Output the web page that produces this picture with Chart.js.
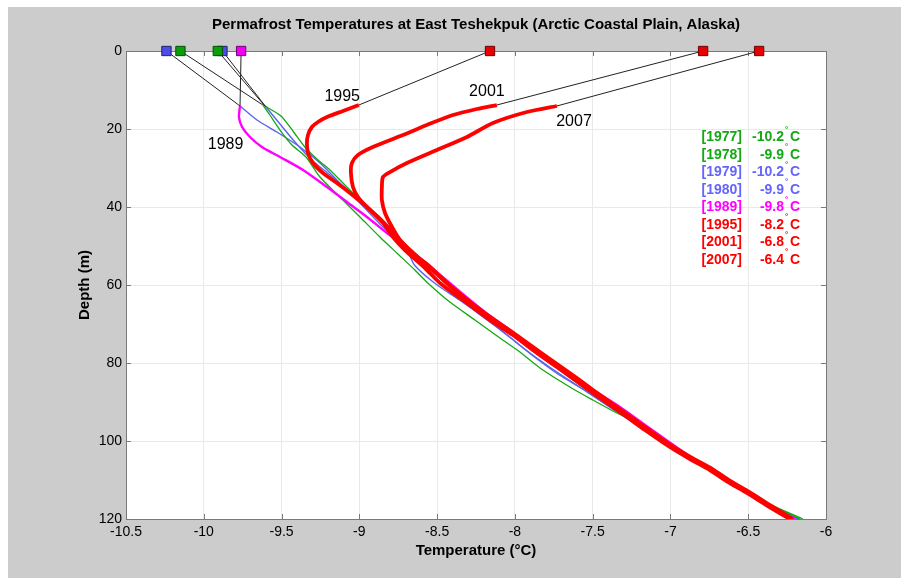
<!DOCTYPE html>
<html>
<head>
<meta charset="utf-8">
<script src="https://cdn.jsdelivr.net/npm/chart.js@4/dist/chart.umd.min.js"></script>
<style>
  body { margin: 0; background: #fff; }
  #wrap { position: absolute; left: 8px; top: 7px; width: 893px; height: 571px; background: #cccccc; }
</style>
</head>
<body>
<div id="wrap"><canvas id="c" width="893" height="571"></canvas></div>
<script>
// survey years, surface temperatures (squares at depth 0) and legend labels
const years = ['1977', '1978', '1979', '1980', '1989', '1995', '2001', '2007'];
const surfaceTemp = [-10.15, -9.91, -10.24, -9.88, -9.76, -8.16, -6.79, -6.43];
const legendTemp = ['-10.2', '-9.9', '-10.2', '-9.9', '-9.8', '-8.2', '-6.8', '-6.4'];

const xTicks = [-10.5, -10, -9.5, -9, -8.5, -8, -7.5, -7, -6.5, -6];
const yTicks = [0, 20, 40, 60, 80, 100, 120];

// measured profiles: depth (m) and temperature (C)
const depth1977 = [13.85, 16.41, 20.26, 24.10, 27.18, 32.31, 37.44, 42.56, 47.69, 52.05, 56.15, 60.00, 64.36, 68.97, 73.59, 77.18, 81.28, 86.15, 89.49, 92.56, 94.87, 98.21, 101.54, 107.95, 113.85, 120];
const temp1977 = [-9.620, -9.575, -9.510, -9.433, -9.343, -9.253, -9.125, -8.996, -8.868, -8.752, -8.643, -8.546, -8.418, -8.257, -8.096, -7.968, -7.839, -7.647, -7.499, -7.357, -7.242, -7.120, -6.991, -6.734, -6.490, -6.149];

const depth1978 = [14.10, 16.67, 20.51, 24.62, 27.95, 30.51, 34.36, 38.21, 42.82, 47.18, 51.03, 56.15, 61.79, 66.92, 71.54, 76.67, 81.28, 86.92, 92.05, 97.18, 101.54, 107.69, 113.59, 120];
const temp1978 = [-9.607, -9.504, -9.427, -9.350, -9.266, -9.189, -9.093, -8.996, -8.880, -8.771, -8.662, -8.534, -8.373, -8.213, -8.052, -7.891, -7.731, -7.538, -7.345, -7.147, -6.972, -6.734, -6.490, -6.168];

const depth1979 = [14.10, 17.69, 20.77, 24.62, 28.72, 33.85, 38.97, 45.13, 51.03, 54.87, 59.49, 63.85, 68.46, 73.33, 78.46, 83.08, 86.92, 92.05, 97.18, 101.54, 107.69, 113.59, 120];
const temp1979 = [-9.767, -9.658, -9.530, -9.382, -9.253, -9.125, -8.996, -8.848, -8.694, -8.646, -8.517, -8.356, -8.196, -8.035, -7.874, -7.714, -7.553, -7.360, -7.162, -6.972, -6.734, -6.490, -6.181];

const depth1980 = [14.36, 18.72, 23.33, 27.95, 31.79, 36.15, 40.77, 45.90, 51.03, 55.64, 61.28, 66.41, 71.54, 76.67, 81.28, 86.41, 91.54, 97.18, 101.54, 107.69, 113.59, 120];
const temp1980 = [-9.600, -9.510, -9.414, -9.305, -9.189, -9.060, -8.932, -8.803, -8.675, -8.571, -8.430, -8.263, -8.089, -7.929, -7.768, -7.575, -7.382, -7.165, -6.972, -6.734, -6.490, -6.181];

const depth1989 = [14.10, 16.92, 19.49, 22.05, 24.62, 27.18, 30.51, 34.87, 38.72, 42.56, 46.67, 51.03, 55.64, 61.28, 66.92, 71.54, 77.18, 81.28, 86.41, 91.28, 96.41, 101.28, 107.44, 113.59, 120];
const temp1989 = [-9.767, -9.774, -9.754, -9.703, -9.626, -9.510, -9.362, -9.208, -9.080, -8.951, -8.823, -8.675, -8.533, -8.366, -8.193, -8.032, -7.859, -7.711, -7.518, -7.325, -7.145, -6.972, -6.747, -6.490, -6.201];

const depth1995 = [13.85, 15.38, 16.92, 18.21, 19.49, 21.54, 23.59, 26.15, 28.72, 31.28, 33.85, 36.41, 40.00, 44.10, 47.69, 51.03, 55.64, 59.49, 64.62, 68.97, 72.82, 77.44, 81.03, 84.36, 87.69, 90.77, 93.85, 97.18, 101.54, 104.62, 107.44, 110.51, 113.33, 116.67, 120];
const temp1995 = [-9.003, -9.105, -9.208, -9.266, -9.305, -9.330, -9.337, -9.330, -9.298, -9.234, -9.144, -9.060, -8.951, -8.848, -8.784, -8.707, -8.578, -8.482, -8.308, -8.161, -8.013, -7.859, -7.730, -7.614, -7.499, -7.389, -7.280, -7.164, -7.004, -6.875, -6.747, -6.631, -6.509, -6.374, -6.233];

const depth2001 = [13.85, 14.87, 16.41, 18.97, 21.54, 24.62, 26.67, 28.72, 31.28, 34.87, 37.44, 40.00, 42.56, 45.13, 48.46, 51.54, 55.64, 59.49, 64.62, 68.97, 72.82, 77.44, 81.03, 84.36, 87.69, 90.77, 93.85, 97.18, 101.54, 104.62, 107.44, 110.51, 113.33, 116.67, 120];
const temp2001 = [-8.116, -8.244, -8.398, -8.566, -8.720, -8.913, -9.009, -9.048, -9.054, -9.041, -9.009, -8.951, -8.880, -8.816, -8.739, -8.662, -8.546, -8.437, -8.289, -8.141, -8.000, -7.839, -7.711, -7.601, -7.486, -7.376, -7.267, -7.151, -6.991, -6.862, -6.734, -6.618, -6.496, -6.361, -6.220];

const depth2007 = [14.10, 15.64, 18.46, 22.05, 25.38, 28.72, 31.03, 32.31, 34.87, 38.21, 41.54, 45.13, 48.46, 51.79, 54.87, 59.49, 64.36, 68.72, 72.56, 77.18, 80.77, 84.00, 87.40, 90.50, 93.60, 96.90, 101.30, 104.40, 107.20, 110.30, 113.10, 116.50, 120];
const temp2007 = [-7.730, -7.923, -8.141, -8.308, -8.501, -8.694, -8.803, -8.848, -8.855, -8.855, -8.835, -8.790, -8.739, -8.662, -8.559, -8.437, -8.289, -8.141, -8.000, -7.839, -7.711, -7.597, -7.482, -7.372, -7.262, -7.146, -6.988, -6.858, -6.730, -6.613, -6.492, -6.357, -6.215];

// year labels next to the curves, in data units (temperature, depth)
const labelYears = ['1995', '2001', '2007', '1989'];
const labelTemp = [-9.11, -8.18, -7.62, -9.86];
const labelDepth = [11.6, 10.5, 18.2, 23.9];

const profiles = [
    [depth1977, temp1977], [depth1978, temp1978], [depth1979, temp1979], [depth1980, temp1980],
    [depth1989, temp1989], [depth1995, temp1995], [depth2001, temp2001], [depth2007, temp2007]
];

const lineColor = ['#14a814', '#14a814', '#5a64f0', '#5a64f0', '#ff00ff', '#ff0000', '#ff0000', '#ff0000'];
const squareColor = ['#0c9c0c', '#0c9c0c', '#4c4ce6', '#4c4ce6', '#f000f0', '#e60000', '#e60000', '#e60000'];
const squareEdge = ['#045004', '#045004', '#22226e', '#22226e', '#700070', '#6e0000', '#6e0000', '#6e0000'];
const legendColor = ['#14a814', '#14a814', '#6464ff', '#6464ff', '#ff00ff', '#ff0000', '#ff0000', '#ff0000'];
const lineWidth = [1.3, 1.3, 1.4, 1.4, 2.4, 3.8, 3.8, 3.8];

const FONT = '"Liberation Sans", Arial, Helvetica, sans-serif';

const datasets = [];
years.forEach((yr, i) => {
    const [d, t] = profiles[i];
    datasets.push({
        label: yr,
        data: d.map((v, j) => ({ x: t[j], y: v })),
        showLine: true,
        borderColor: lineColor[i],
        borderWidth: lineWidth[i],
        pointRadius: 0,
        tension: 0.25,
        order: i >= 5 ? 3 : (i === 4 ? 4 : 5)
    });
    datasets.push({
        label: yr + ' link',
        data: [{ x: surfaceTemp[i], y: 0 }, { x: t[0], y: d[0] }],
        showLine: true,
        borderColor: '#222',
        borderWidth: 1,
        pointRadius: 0,
        order: 2
    });
    datasets.push({
        label: yr + ' surface',
        data: [{ x: surfaceTemp[i], y: 0 }],
        showLine: false,
        pointStyle: 'rect',
        pointRadius: 6.6,
        backgroundColor: squareColor[i],
        borderColor: squareEdge[i],
        borderWidth: 1,
        clip: false,
        order: 1
    });
});

const decor = {
    id: 'decor',
    beforeDraw(chart) {
        const { ctx, chartArea: a } = chart;
        ctx.save();
        ctx.fillStyle = '#fff';
        ctx.fillRect(a.left, a.top, a.right - a.left, a.bottom - a.top);
        ctx.restore();
    },
    beforeDatasetsDraw(chart) {
        const { ctx, chartArea: a, scales: { x, y } } = chart;
        ctx.save();
        ctx.strokeStyle = '#7a7a7a';
        ctx.lineWidth = 1;
        ctx.beginPath();
        xTicks.forEach(v => {
            const px = Math.round(x.getPixelForValue(v)) + 0.5;
            ctx.moveTo(px, a.bottom); ctx.lineTo(px, a.bottom - 5);
            ctx.moveTo(px, a.top); ctx.lineTo(px, a.top + 5);
        });
        yTicks.forEach(v => {
            const py = Math.round(y.getPixelForValue(v)) + 0.5;
            ctx.moveTo(a.left, py); ctx.lineTo(a.left + 5, py);
            ctx.moveTo(a.right, py); ctx.lineTo(a.right - 5, py);
        });
        ctx.stroke();
        ctx.strokeRect(Math.round(a.left) + 0.5, Math.round(a.top) + 0.5,
            Math.round(a.right - a.left), Math.round(a.bottom - a.top));
        ctx.restore();
    },
    afterDraw(chart) {
        const { ctx, chartArea: a, scales: { x, y } } = chart;
        const cx = (a.left + a.right) / 2;
        ctx.save();
        ctx.fillStyle = '#000';
        ctx.textAlign = 'center';
        ctx.textBaseline = 'alphabetic';
        ctx.font = 'bold 15px ' + FONT;
        ctx.fillText('Permafrost Temperatures at East Teshekpuk (Arctic Coastal Plain, Alaska)', cx, 22);
        ctx.fillText('Temperature (°C)', cx, 548);
        ctx.save();
        ctx.translate(77, (a.top + a.bottom) / 2);
        ctx.rotate(-Math.PI / 2);
        ctx.textBaseline = 'middle';
        ctx.fillText('Depth (m)', 0, 0);
        ctx.restore();

        // year labels by the curves
        ctx.font = '16px ' + FONT;
        ctx.textBaseline = 'middle';
        labelYears.forEach((s, i) => {
            ctx.fillText(s, x.getPixelForValue(labelTemp[i]), y.getPixelForValue(labelDepth[i]));
        });

        // legend of surface temperatures
        ctx.font = 'bold 14px ' + FONT;
        years.forEach((yr, i) => {
            const ry = 130.5 + i * 17.5;
            ctx.fillStyle = legendColor[i];
            ctx.textAlign = 'right';
            ctx.fillText('[' + yr + ']', 734, ry);
            ctx.fillText(legendTemp[i], 776, ry);
            ctx.textAlign = 'left';
            ctx.font = 'bold 8px ' + FONT;
            ctx.fillText('°', 777, ry - 8);
            ctx.font = 'bold 14px ' + FONT;
            ctx.fillText('C', 782, ry);
        });
        ctx.restore();
    }
};

new Chart(document.getElementById('c'), {
    type: 'scatter',
    data: { datasets: datasets },
    options: {
        responsive: false,
        animation: false,
        events: [],
        layout: { padding: { left: 0, top: 44, right: 75, bottom: 0 } },
        plugins: { legend: { display: false }, tooltip: { enabled: false } },
        scales: {
            x: {
                type: 'linear',
                min: -10.5,
                max: -6,
                afterFit: s => { s.height = 59; },
                afterBuildTicks: s => { s.ticks = xTicks.map(v => ({ value: v })); },
                grid: { color: '#e9e9e9', drawTicks: false },
                border: { display: false },
                ticks: {
                    autoSkip: false,
                    maxRotation: 0,
                    padding: 5,
                    color: '#000',
                    font: { family: FONT, size: 14 },
                    callback: v => String(v)
                }
            },
            y: {
                type: 'linear',
                reverse: true,
                min: 0,
                max: 120,
                afterFit: s => { s.width = 118; },
                afterBuildTicks: s => { s.ticks = yTicks.map(v => ({ value: v })); },
                grid: { color: '#e9e9e9', drawTicks: false },
                border: { display: false },
                ticks: {
                    padding: 4,
                    color: '#000',
                    font: { family: FONT, size: 14 },
                    callback: v => String(v)
                }
            }
        }
    },
    plugins: [decor]
});
</script>
</body>
</html>
